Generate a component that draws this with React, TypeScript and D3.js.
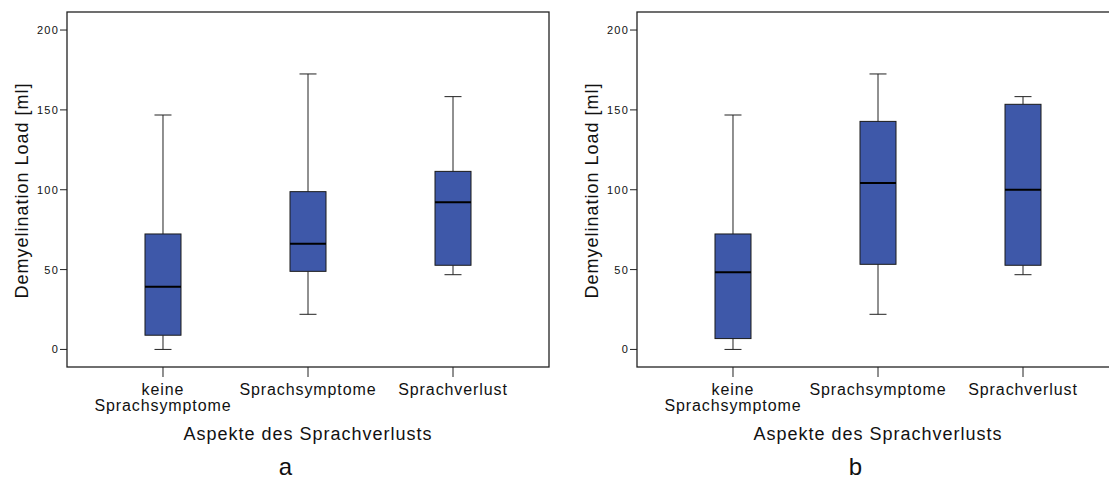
import React from "react";
import * as d3 from "d3";

// Groups along the x axis
const categories = ["keine Sprachsymptome", "Sprachsymptome", "Sprachverlust"];
const categoryLines = [["keine", "Sprachsymptome"], ["Sprachsymptome"], ["Sprachverlust"]];

// Five-number summaries (lower whisker, Q1, median, Q3, upper whisker) in ml
const panelAStats = [
  [0, 8.9, 39.3, 72.3, 146.8],
  [22.0, 48.9, 66.2, 98.8, 172.5],
  [46.8, 52.7, 92.1, 111.5, 158.3],
];
const panelBStats = [
  [0, 6.8, 48.3, 72.3, 146.8],
  [22.0, 53.3, 104.2, 142.8, 172.5],
  [46.8, 52.7, 100.0, 153.5, 158.3],
];

const yTicks = [0, 50, 100, 150, 200];
const yTitle = "Demyelination Load [ml]";
const xTitle = "Aspekte des Sprachverlusts";
const panelLabels = ["a", "b"];

const W = 1109;
const H = 479;
const FONT = "'Liberation Sans', Arial, Helvetica, sans-serif";
const BOX_FILL = "#3e58a9";

type PanelProps = { stats: number[][]; offsetX: number; label: string };

function Panel({ stats, offsetX, label }: PanelProps) {
  const left = 67;
  const right = 549;
  const top = 12;
  const bottom = 367;

  const x = d3.scalePoint<string>().domain(categories).range([left, right]).padding(0.662);
  const y = d3.scaleLinear().domain([-11, 211.3]).range([bottom, top]);

  const boxW = 36;
  const capW = 17;

  return (
    <g transform={`translate(${offsetX},0)`}>
      {/* frame */}
      <rect x={left} y={top} width={right - left} height={bottom - top} fill="none" stroke="#222" strokeWidth={1.3} />

      {/* y axis ticks */}
      {yTicks.map((t) => (
        <g key={t}>
          <line x1={left - 7} x2={left} y1={y(t)} y2={y(t)} stroke="#222" strokeWidth={1} />
          <text
            x={left - 8}
            y={y(t) + 4}
            textAnchor="end"
            fontSize={11}
            letterSpacing={1.2}
            fontFamily={FONT}
            fill="#111"
          >
            {t}
          </text>
        </g>
      ))}

      {/* y title */}
      <text
        transform={`translate(${left - 39},${(top + bottom) / 2 + 1}) rotate(-90)`}
        textAnchor="middle"
        fontSize={18}
        letterSpacing={1}
        fontFamily={FONT}
        fill="#111"
      >
        {yTitle}
      </text>

      {/* boxes */}
      {categories.map((c, i) => {
        const [lo, q1, med, q3, hi] = stats[i];
        const cx = x(c)!;
        return (
          <g key={c}>
            <line x1={cx} x2={cx} y1={y(hi)} y2={y(q3)} stroke="#222" strokeWidth={1} />
            <line x1={cx} x2={cx} y1={y(q1)} y2={y(lo)} stroke="#222" strokeWidth={1} />
            <line x1={cx - capW / 2} x2={cx + capW / 2} y1={y(hi)} y2={y(hi)} stroke="#222" strokeWidth={1} />
            <line x1={cx - capW / 2} x2={cx + capW / 2} y1={y(lo)} y2={y(lo)} stroke="#222" strokeWidth={1} />
            <rect
              x={cx - boxW / 2}
              y={y(q3)}
              width={boxW}
              height={y(q1) - y(q3)}
              fill={BOX_FILL}
              stroke="#1a1a1a"
              strokeWidth={1}
            />
            <line x1={cx - boxW / 2} x2={cx + boxW / 2} y1={y(med)} y2={y(med)} stroke="#000" strokeWidth={2} />
          </g>
        );
      })}

      {/* x axis ticks and labels */}
      {categories.map((c, i) => {
        const cx = x(c)!;
        return (
          <g key={c}>
            <line x1={cx} x2={cx} y1={bottom} y2={bottom + 10} stroke="#222" strokeWidth={1} />
            {categoryLines[i].map((ln, j) => (
              <text
                key={j}
                x={cx}
                y={395 + j * 16}
                textAnchor="middle"
                fontSize={16}
                letterSpacing={0.9}
                fontFamily={FONT}
                fill="#111"
              >
                {ln}
              </text>
            ))}
          </g>
        );
      })}

      {/* x title */}
      <text
        x={(left + right) / 2}
        y={440}
        textAnchor="middle"
        fontSize={18}
        letterSpacing={1}
        fontFamily={FONT}
        fill="#111"
      >
        {xTitle}
      </text>

      {/* panel letter */}
      <text x={285.5} y={475} textAnchor="middle" fontSize={24} fontFamily={FONT} fill="#111">
        {label}
      </text>
    </g>
  );
}

export default function App() {
  return (
    <svg
      width={W}
      height={H}
      viewBox={`0 0 ${W} ${H}`}
      style={{ position: "absolute", left: 0, top: 0, background: "#fff", display: "block" }}
    >
      <rect width={W} height={H} fill="#fff" />
      <Panel stats={panelAStats} offsetX={0} label={panelLabels[0]} />
      <Panel stats={panelBStats} offsetX={570} label={panelLabels[1]} />
    </svg>
  );
}
